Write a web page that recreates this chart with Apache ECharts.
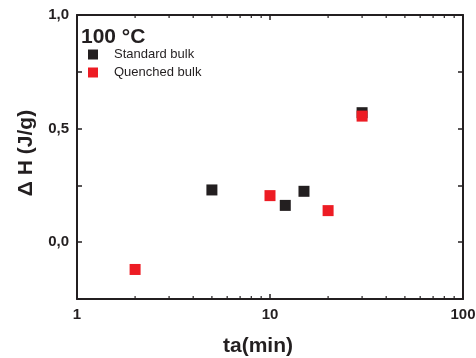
<!DOCTYPE html>
<html>
<head>
<meta charset="utf-8">
<script src="https://cdn.jsdelivr.net/npm/echarts@6/dist/echarts.min.js"></script>
<style>html,body{margin:0;padding:0;background:#fff;}#c{width:476px;height:358px;}</style>
</head>
<body>
<div id="c"></div>
<script>
const standardX = [5, 12, 15, 30];
const standardY = [0.23, 0.162, 0.224, 0.57];
const quenchedX = [2, 10, 20, 30];
const quenchedY = [-0.12, 0.205, 0.139, 0.555];
const xMinorTicks = [2, 3, 4, 5, 6, 7, 8, 9, 20, 30, 40, 50, 60, 70, 80, 90];
const xTickLabels = ['1', '10', '100'];
const seriesNames = ['Standard bulk', 'Quenched bulk'];
const titleText = '100 °C';

const FONT = 'Liberation Sans, Arial, sans-serif';
const AX = '#231f20';
const chart = echarts.init(document.getElementById('c'), null, {renderer: 'canvas'});

function zip(xs, ys) { return xs.map((x, i) => [x, ys[i]]); }

const Y_MIN = -0.25, Y_MAX = 1.0;
const lineCfg = {show: true, onZero: false, lineStyle: {color: AX, width: 2}};
const tickCfg = {show: true, inside: true, length: 5, lineStyle: {color: AX, width: 1.5}};

chart.setOption({
  animation: false,
  backgroundColor: '#fff',
  title: {
    text: titleText, left: 81, top: 27, padding: 0,
    textStyle: {fontFamily: FONT, fontWeight: 'bold', fontSize: 21, color: AX}
  },
  legend: {
    data: seriesNames.map(n => ({name: n, icon: 'rect'})),
    orient: 'vertical', left: 88, top: 48, padding: 0,
    itemWidth: 10, itemHeight: 10, itemGap: 5,
    textStyle: {fontFamily: FONT, fontSize: 13, color: AX, padding: [0, 0, 0, 11]}
  },
  grid: {left: 77, right: 13, top: 15, bottom: 59, containLabel: false, outerBoundsMode: 'none'},
  xAxis: [{
    type: 'log', logBase: 10, min: 1, max: 100, position: 'bottom',
    name: 'ta(min)', nameLocation: 'middle', nameGap: 37,
    nameTextStyle: {fontFamily: FONT, fontWeight: 'bold', fontSize: 21, color: AX, padding: [0, 24, 0, 0]},
    axisLine: lineCfg, axisTick: tickCfg,
    axisLabel: {fontFamily: FONT, fontWeight: 'bold', fontSize: 15, color: AX, margin: 8,
      formatter: v => { const i = [1, 10, 100].indexOf(Math.round(v)); return i >= 0 ? xTickLabels[i] : ''; }},
    splitLine: {show: false}
  }, {
    type: 'log', logBase: 10, min: 1, max: 100, position: 'top',
    axisLine: lineCfg, axisTick: tickCfg,
    axisLabel: {show: false}, splitLine: {show: false}
  }],
  yAxis: [{
    type: 'value', min: Y_MIN, max: Y_MAX, interval: 0.25, position: 'left',
    name: 'Δ H (J/g)', nameLocation: 'middle', nameGap: 40, nameRotate: 90,
    nameTextStyle: {fontFamily: FONT, fontWeight: 'bold', fontSize: 21, color: AX, padding: [0, 0, 0, 8]},
    axisLine: lineCfg, axisTick: tickCfg,
    axisLabel: {fontFamily: FONT, fontWeight: 'bold', fontSize: 15, color: AX, margin: 8,
      formatter: v => (Math.abs(Math.round(v * 2) - v * 2) < 1e-9) ? v.toFixed(1).replace('.', ',') : ''},
    splitLine: {show: false}
  }, {
    type: 'value', min: Y_MIN, max: Y_MAX, interval: 0.25, position: 'right',
    axisLine: lineCfg, axisTick: tickCfg,
    axisLabel: {show: false}, splitLine: {show: false}
  }],
  series: [{
    type: 'custom', name: 'minorTicks', xAxisIndex: 0, yAxisIndex: 0, silent: true,
    clip: false, z: 1,
    data: xMinorTicks.map(x => [x, Y_MIN]),
    renderItem: function (params, api) {
      const b = api.coord([api.value(0), Y_MIN]);
      const t = api.coord([api.value(0), Y_MAX]);
      const st = {stroke: AX, lineWidth: 1.2};
      return {type: 'group', children: [
        {type: 'line', shape: {x1: b[0], y1: b[1], x2: b[0], y2: b[1] - 3}, style: st},
        {type: 'line', shape: {x1: t[0], y1: t[1], x2: t[0], y2: t[1] + 3}, style: st}
      ]};
    }
  }, {
    type: 'scatter', name: seriesNames[0], symbol: 'rect', symbolSize: 11,
    itemStyle: {color: '#231f20', opacity: 1}, data: zip(standardX, standardY), z: 3
  }, {
    type: 'scatter', name: seriesNames[1], symbol: 'rect', symbolSize: 11,
    itemStyle: {color: '#ed1c24', opacity: 1}, data: zip(quenchedX, quenchedY), z: 4
  }]
});
</script>
</body>
</html>
